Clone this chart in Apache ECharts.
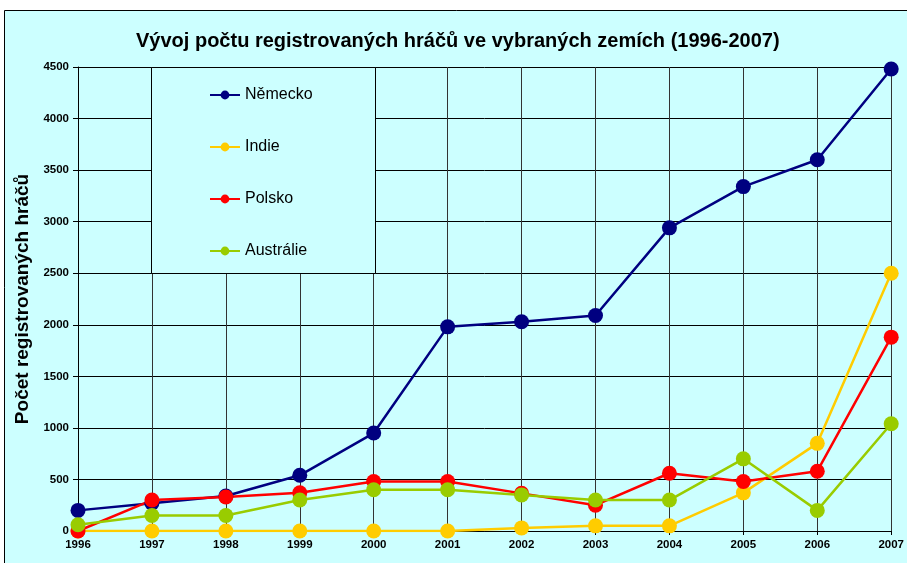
<!DOCTYPE html>
<html>
<head>
	<meta charset="utf-8">
	<title>Vývoj počtu registrovaných hráčů</title>
	<script src="https://cdn.jsdelivr.net/npm/echarts@6/dist/echarts.min.js"></script>
	<style>
		html, body { margin:0; padding:0; background:#fff; }
		#chart { width:907px; height:563px; }
	</style>
</head>
<body>
	<div id="chart"></div>
<script type="text/javascript">
	var years = ['1996','1997','1998','1999','2000','2001','2002','2003','2004','2005','2006','2007'];
	var nemecko   = [200, 270, 340, 540, 950, 1980, 2030, 2090, 2940, 3340, 3600, 4480];
	var indie     = [0, 0, 0, 0, 0, 0, 30, 50, 50, 370, 850, 2500];
	var polsko    = [0, 300, 330, 370, 480, 480, 365, 250, 560, 480, 580, 1880];
	var australie = [60, 150, 150, 300, 400, 400, 350, 300, 300, 700, 200, 1040];

	var font = '"Liberation Sans", Arial, sans-serif';

	//jedna serie
	function makeSeries(name, data, color){
		return {
			name: name,
			type: 'line',
			data: data,
			symbol: 'circle',
			symbolSize: 15,
			z: 3,
			lineStyle: { color: color, width: 2.5 },
			itemStyle: { color: color },
			emphasis: { disabled: true }
		};
	}

	var myChart = echarts.init(document.getElementById('chart'), null, { renderer: 'canvas' });
	myChart.setOption({
		animation: false,
		backgroundColor: '#fff',
		title: {
			text: 'Vývoj počtu registrovaných hráčů ve vybraných zemích (1996-2007)',
			left: 131,
			top: 26,
			textStyle: { fontFamily: font, fontSize: 20, fontWeight: 'bold', color: '#000' }
		},
		graphic: [
			{
				type: 'rect', z: -10, silent: true,
				shape: { x: 4.5, y: 10.5, width: 920, height: 600 },
				style: { fill: '#CCFFFF', stroke: '#000', lineWidth: 1 }
			},
			{
				type: 'rect', z: 1, silent: true,
				shape: { x: 151.5, y: 67.5, width: 224, height: 206 },
				style: { fill: '#CCFFFF', stroke: '#000', lineWidth: 1 }
			}
		],
		legend: {
			orient: 'vertical',
			left: 204,
			top: 82,
			itemWidth: 30,
			itemHeight: 11,
			itemGap: 36,
			z: 4,
			textStyle: { fontFamily: font, fontSize: 16, color: '#000', lineHeight: 16 },
			data: ['Německo', 'Indie', 'Polsko', 'Austrálie']
		},
		grid: { left: 78, right: 14, top: 67, bottom: 32 },
		xAxis: {
			type: 'category',
			data: years,
			boundaryGap: false,
			axisLine: { lineStyle: { color: '#000', width: 1 } },
			axisTick: { show: true, length: 4, lineStyle: { color: '#000' } },
			axisLabel: { fontFamily: font, fontSize: 11.5, fontWeight: 'bold', color: '#000', margin: 8 },
			splitLine: { show: true, lineStyle: { color: '#333', width: 1 } }
		},
		yAxis: {
			type: 'value',
			min: 0,
			max: 4500,
			interval: 500,
			name: 'Počet registrovaných hráčů',
			nameLocation: 'middle',
			nameGap: 45,
			nameTextStyle: { fontFamily: font, fontSize: 19, fontWeight: 'bold', color: '#000' },
			axisLine: { show: true, lineStyle: { color: '#000', width: 1 } },
			axisTick: { show: true, length: 5, lineStyle: { color: '#000' } },
			axisLabel: {
				fontFamily: font, fontSize: 11.5, fontWeight: 'bold', color: '#000', margin: 9,
				formatter: function(v){ return String(v); }
			},
			splitLine: { show: true, lineStyle: { color: '#000', width: 1 } }
		},
		series: [
			makeSeries('Německo', nemecko, '#000080'),
			makeSeries('Indie', indie, '#FFCC00'),
			makeSeries('Polsko', polsko, '#FF0000'),
			makeSeries('Austrálie', australie, '#99CC00')
		]
	});
</script>
</body>
</html>
